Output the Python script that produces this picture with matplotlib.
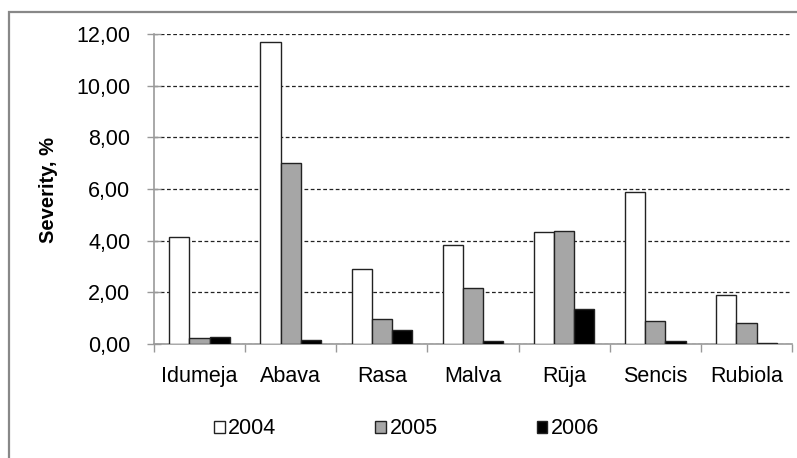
import numpy as np
import matplotlib
matplotlib.use("Agg")
import matplotlib.pyplot as plt
from matplotlib.patches import Rectangle

plt.rcParams["font.family"] = ["Liberation Sans", "DejaVu Sans"]

varieties = ["Idumeja", "Abava", "Rasa", "Malva", "Rūja", "Sencis", "Rubiola"]
years = ["2004", "2005", "2006"]
sev_2004 = [4.13, 11.70, 2.92, 3.82, 4.32, 5.88, 1.91]
sev_2005 = [0.23, 7.02, 0.98, 2.18, 4.36, 0.88, 0.80]
sev_2006 = [0.28, 0.15, 0.54, 0.10, 1.34, 0.10, 0.04]
y_ticks = [0, 2, 4, 6, 8, 10, 12]

W, H = 797, 458
fig = plt.figure(figsize=(W / 100, H / 100), dpi=100)
ax = fig.add_axes([154 / W, 1 - 344 / H, (792 - 154) / W, (344 - 34) / H])

# outer chart border (left/top visible only)
fig.patches.append(Rectangle((9 / W, -0.1), 1.2, 1 - 12 / H + 0.1,
                             transform=fig.transFigure, fill=False,
                             edgecolor="#888888", linewidth=1.6))

x = np.arange(len(varieties))
w = 0.222
styles = [("white", sev_2004), ("#a6a6a6", sev_2005), ("black", sev_2006)]
for k, (col, vals) in enumerate(styles):
    ax.bar(x + (k - 1) * w, vals, width=w, color=col, edgecolor="#222222",
           linewidth=1.0, label=years[k], zorder=3)

ax.set_xlim(-0.5, len(varieties) - 0.5)
ax.set_ylim(0, 12)
ax.set_yticks(y_ticks)
ax.set_yticklabels([f"{v:.2f}".replace(".", ",") for v in y_ticks], fontsize=15.5)
ax.yaxis.grid(True, linestyle=(0, (3, 2)), color="#222222", linewidth=0.9, zorder=0)

ax.set_xticks(x)
ax.set_xticklabels(varieties, fontsize=15.5)
ax.tick_params(axis="x", length=0, pad=16)
ax.set_xticks(np.arange(len(varieties) + 1) - 0.5, minor=True)
ax.tick_params(axis="x", which="minor", length=6, color="#999999", width=1)
ax.tick_params(axis="y", direction="inout", length=10, color="#999999", width=1, pad=12)

for s in ["top", "right"]:
    ax.spines[s].set_visible(False)
for s in ["left", "bottom"]:
    ax.spines[s].set_color("#999999")
    ax.spines[s].set_linewidth(1.2)

fig.text(48 / W, 1 - 190 / H, "Severity, %", rotation=90, fontsize=14.5,
         fontweight="bold", ha="center", va="center")

fig.legend(loc="center", bbox_to_anchor=(0.51, 1 - 429 / H), ncol=3,
           frameon=False, fontsize=15.5, handlelength=0.5, handleheight=0.5,
           handletextpad=0.15, columnspacing=4.6)

fig.savefig("out.png", dpi=100)
